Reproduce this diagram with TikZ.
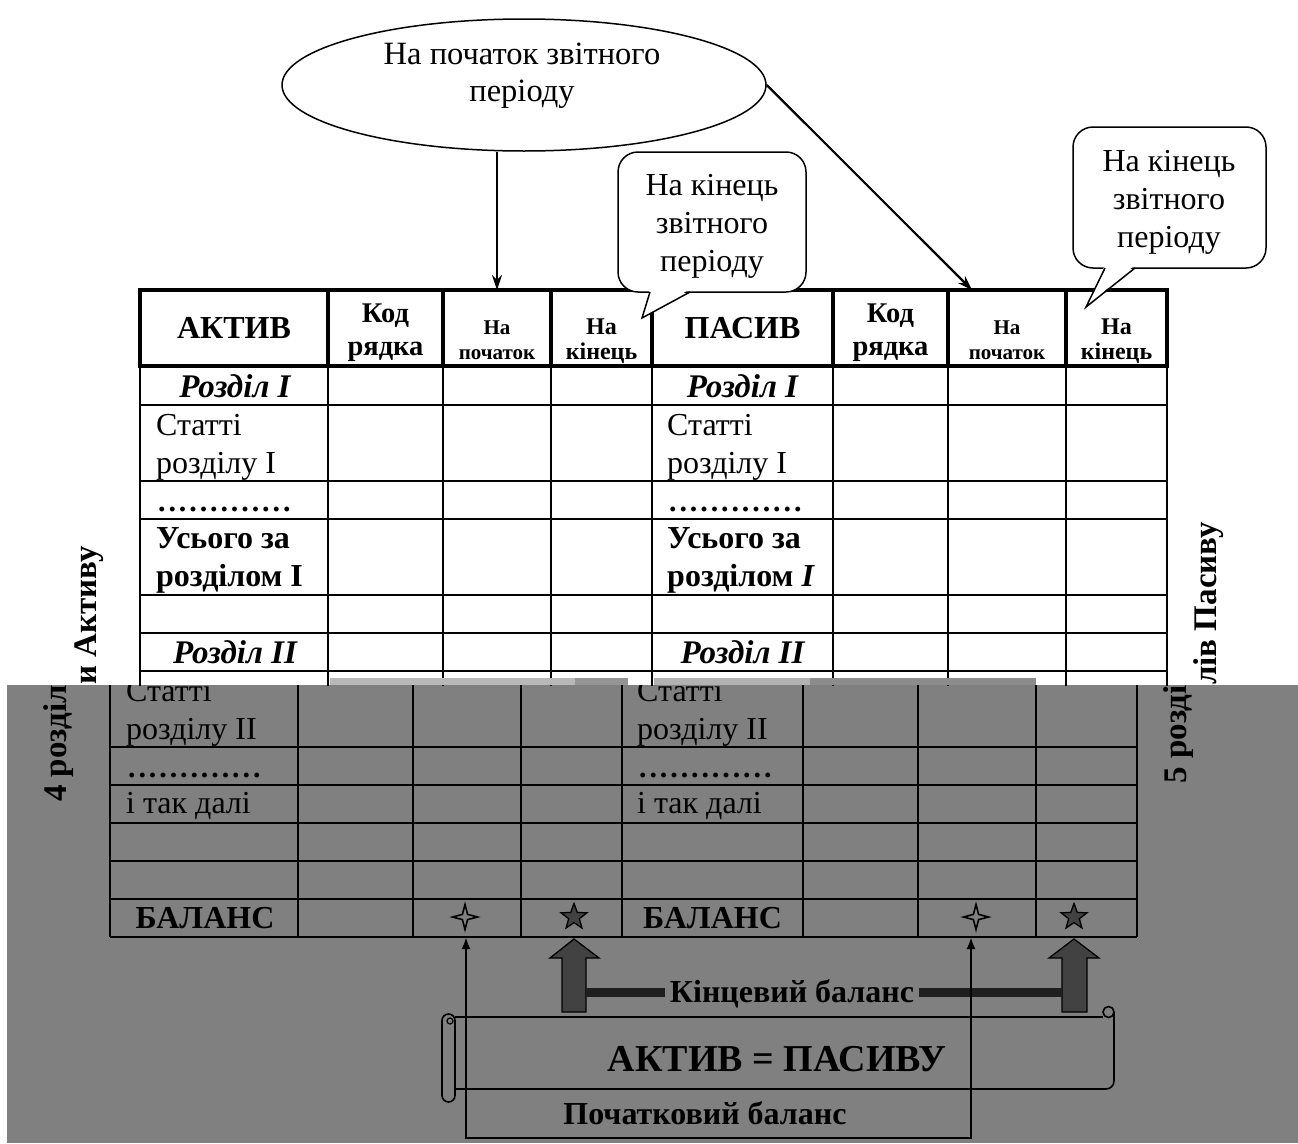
\documentclass[tikz,border=0pt]{standalone}
\usepackage{fontspec}
\setmainfont{Liberation Serif}
\usetikzlibrary{shapes.geometric,arrows.meta}
\definecolor{bggray}{RGB}{128,128,128}
\definecolor{darkfill}{RGB}{66,66,66}
\newcommand\fsz[1]{\fontsize{#1}{#1}\selectfont}
\newcommand\dd{.\kern2.9pt}
\newcommand\dotline{\textbf{\fsz{30}\dd\dd\dd\dd\dd\dd\dd\dd\dd\dd\dd\dd.}}

% table rules (drawn twice: upper part and shifted lower part)
\newcommand\tablegrid{%
  \foreach \a/\b in {140/328,328/443,443/551,551/652,652/833,833/948,948/1066,1066/1167}
    {\draw[hdrbox] (\a,290) rectangle (\b,366);}
  \foreach \a in {140,328,443,551,652,833,948,1066,1167}
    {\draw[tline] (\a,366) -- (\a,937);}
  \foreach \r in {405,481,519,595,633,671,747,785,823,861,899,937}
    {\draw[tline] (140,\r) -- (1167,\r);}
}

% texts of the upper (white) part
\newcommand\uppertexts{%
  \node[ctr,font=\bfseries\fsz{32}] (hA) at (234,338) {АКТИВ};
  \node[ctr,font=\bfseries\fsz{28.5}] (hK1) at (385.5,322) {Код};
  \node[ctr,font=\bfseries\fsz{28.5}] (hK2) at (385.5,355) {рядка};
  \node[ctr,font=\bfseries\fsz{21}] (hP1) at (497,334) {На};
  \node[ctr,font=\bfseries\fsz{21}] (hP2) at (497,359) {початок};
  \node[ctr,font=\bfseries\fsz{24}] (hE1) at (601.5,334) {На};
  \node[ctr,font=\bfseries\fsz{24}] (hE2) at (601.5,359) {кінець};
  \node[ctr,font=\bfseries\itshape\fsz{33}] (s1) at (235,397) {Розділ I};
  \node[lft,font=\fsz{32}] (st1) at (156,435) {Статті};
  \node[lft,font=\fsz{32}] (st2) at (156,473) {розділу I};
  \node[lft] (d1) at (158,511) {\dotline};
  \node[lft,font=\bfseries\fsz{32}] (t1) at (156,548) {Усього за};
  \node[lft,font=\bfseries\fsz{32}] (t2) at (156,586) {розділом I};
  \node[ctr,font=\bfseries\itshape\fsz{33}] (s2) at (235,663) {Розділ II};
  \node[ctr,font=\bfseries\fsz{32}] (hB) at (742.5,338) {ПАСИВ};
  \node[ctr,font=\bfseries\fsz{28.5}] (hL1) at (890.5,322) {Код};
  \node[ctr,font=\bfseries\fsz{28.5}] (hL2) at (890.5,355) {рядка};
  \node[ctr,font=\bfseries\fsz{21}] (hQ1) at (1007,334) {На};
  \node[ctr,font=\bfseries\fsz{21}] (hQ2) at (1007,359) {початок};
  \node[ctr,font=\bfseries\fsz{24}] (hF1) at (1116.5,334) {На};
  \node[ctr,font=\bfseries\fsz{24}] (hF2) at (1116.5,359) {кінець};
  \node[ctr,font=\bfseries\itshape\fsz{33}] (r1) at (742.5,397) {Розділ I};
  \node[lft,font=\fsz{32}] (ru1) at (667,435) {Статті};
  \node[lft,font=\fsz{32}] (ru2) at (667,473) {розділу I};
  \node[lft] (d3) at (669,511) {\dotline};
  \node[lft,font=\bfseries\fsz{32}] (u1) at (667,548) {Усього за};
  \node[lft,font=\bfseries\fsz{32}] (u2) at (667,586) {розділом \textit{I}};
  \node[ctr,font=\bfseries\itshape\fsz{33}] (r2) at (742.5,663) {Розділ II};
  \node[sidelab,anchor=base west] (lab4u) at (96,685) {и Активу};
  \node[sidelab,anchor=base west] (lab5u) at (1216,685) {лів Пасиву};
}

% texts of the lower (grey, shifted) part
\newcommand\lowertexts{%
  \node[lft,font=\fsz{32}] (st3) at (156,701) {Статті};
  \node[lft,font=\fsz{32}] (st4) at (156,739) {розділу II};
  \node[lft] (d2) at (158,777) {\dotline};
  \node[lft,font=\fsz{32}] (etc) at (156,813) {і так далі};
  \node[ctr,font=\bfseries\fsz{32}] (bal) at (235,928) {БАЛАНС};
  \node[fourstar] (fs1) at (495,917) {};
  \node[fivestar] (ps1) at (604,917) {};
  \node[lft,font=\fsz{32}] (ru3) at (667,701) {Статті};
  \node[lft,font=\fsz{32}] (ru4) at (667,739) {розділу II};
  \node[lft] (d4) at (669,777) {\dotline};
  \node[lft,font=\fsz{32}] (etr) at (667,813) {і так далі};
  \node[ctr,font=\bfseries\fsz{32}] (balr) at (742.5,928) {БАЛАНС};
  \node[fourstar] (fs2) at (1006,917) {};
  \node[fivestar] (ps2) at (1104,917) {};
  \node[sidelab,anchor=base east] (lab4l) at (96,685) {4 розділ};
  \node[sidelab,anchor=base east] (lab5l) at (1216,685) {5 розді};
}

\begin{document}
\begin{tikzpicture}[x=1pt,y=-1pt,
  hdrbox/.style={line width=3.4pt},
  tline/.style={line width=2pt},
  ctr/.style={inner sep=0pt,anchor=base},
  lft/.style={inner sep=0pt,anchor=base west},
  sidelab/.style={rotate=90,inner sep=0pt,font=\bfseries\fsz{33}},
  fourstar/.style={star,star points=4,star point ratio=3.4,minimum size=25pt,inner sep=0pt,draw,line width=1.6pt},
  fivestar/.style={star,star points=5,star point ratio=2.4,minimum size=27pt,inner sep=0pt,draw,fill=darkfill,line width=1.3pt},
  txt/.style={inner sep=0pt,anchor=base,font=\fsz{32}},
  bubble/.style={draw,fill=white,line width=1.5pt,rounded corners=20pt,inner sep=0pt},
  thinarrow/.style={line width=2.4pt,{Latex[length=12pt,width=9pt]}-{Latex[length=12pt,width=9pt]}},
  toparrow/.style={-{Stealth[length=15pt,width=10pt]}},
  blockarrow/.style={fill=darkfill,draw=black,line width=1.3pt},
  scrollline/.style={line width=1.6pt}
]
\useasboundingbox (0,0) rectangle (1298,1143);
\fill[white] (0,0) rectangle (1298,1143);
\fill[bggray] (7,685) rectangle (1298,1143);

% upper (white) part of the table
\begin{scope}
  \clip (0,0) rectangle (1298,685);
  \tablegrid
  \uppertexts
\end{scope}
% scan artefact strips
\fill[black!28] (330,678) rectangle (575,685);
\fill[black!42] (575,678) rectangle (628,685);
\fill[black!30] (654,678) rectangle (810,685);
\fill[black!45] (810,678) rectangle (1036,685);
% lower (grey, shifted) part of the table
\begin{scope}
  \clip (0,685) rectangle (1298,1143);
  \begin{scope}[xshift=-30pt]
    \tablegrid
    \lowertexts
  \end{scope}
\end{scope}

% ellipse and arrows
\node[draw,ellipse,line width=1.5pt,minimum width=484pt,minimum height=132pt,inner sep=0pt] (ell) at (524,85) {};
\node[txt,font=\fsz{32.5}] (el1) at (522,64) {На початок звітного};
\node[txt,font=\fsz{32.5}] (el2) at (522,101) {періоду};
\coordinate (a1) at (497,290);
\coordinate (a2) at (972,290);
\draw[toparrow,line width=1.6pt] (ell.south -| a1) -- (a1);
\draw[toparrow,line width=2.2pt] (ell.east) -- (a2);

% callout 1
\node[bubble,minimum width=188pt,minimum height=140pt] (c1) at (712,222) {};
\fill[white] (650,289) -- (642,318) -- (690,289) -- cycle;
\draw[line width=1.5pt] (650,292) -- (642,318) -- (690,292);
\node[txt] (c1a) at (712,195) {На кінець};
\node[txt] (c1b) at (712,233) {звітного};
\node[txt] (c1c) at (712,271) {періоду};

% callout 2
\node[bubble,minimum width=193pt,minimum height=141pt] (c2) at (1169.5,197.5) {};
\fill[white] (1105,265) -- (1086,307) -- (1135,265) -- cycle;
\draw[line width=1.5pt] (1105,268) -- (1086,307) -- (1135,268);
\node[txt] (c2a) at (1169,171) {На кінець};
\node[txt] (c2b) at (1169,209) {звітного};
\node[txt] (c2c) at (1169,247) {періоду};

% block arrows and final balance
\filldraw[blockarrow] (574,939) -- (599,958) -- (586,958) -- (586,1012) -- (562,1012) -- (562,958) -- (550,958) -- cycle;
\filldraw[blockarrow] (1074,939) -- (1099,958) -- (1087,958) -- (1087,1012) -- (1062,1012) -- (1062,958) -- (1049,958) -- cycle;
\coordinate (kL) at (586,992);
\coordinate (kR) at (1062,992);
\draw[line width=9pt,black!88] (kL) -- (kR);
\node[inner sep=5pt,fill=bggray,anchor=base,font=\bfseries\fsz{32}] (kb) at (792,1002) {Кінцевий баланс};

% scroll
\draw[scrollline] (455,1017) -- (1103,1017);
\draw[scrollline,rounded corners=8pt] (455,1089) -- (1114,1089) -- (1114,1012);
\draw[scrollline] (1108.5,1012) circle (5.5pt);
\draw[scrollline,rounded corners=6.5pt] (442,1014) rectangle (455,1102);
\draw[line width=1.2pt] (450,1021) circle (3pt);
\node[ctr,font=\bfseries\fsz{38}] (eq) at (777,1071) {АКТИВ = ПАСИВУ};

% opening balance
\coordinate (tL) at (466,937);
\coordinate (tR) at (971,937);
\coordinate (pL) at (466,1138);
\coordinate (pR) at (971,1138);
\draw[thinarrow] (tL) -- (pL) -- (pR) -- (tR);
\node[ctr,font=\bfseries\fsz{32}] (pb) at (705,1124) {Початковий баланс};
\end{tikzpicture}
\end{document}
